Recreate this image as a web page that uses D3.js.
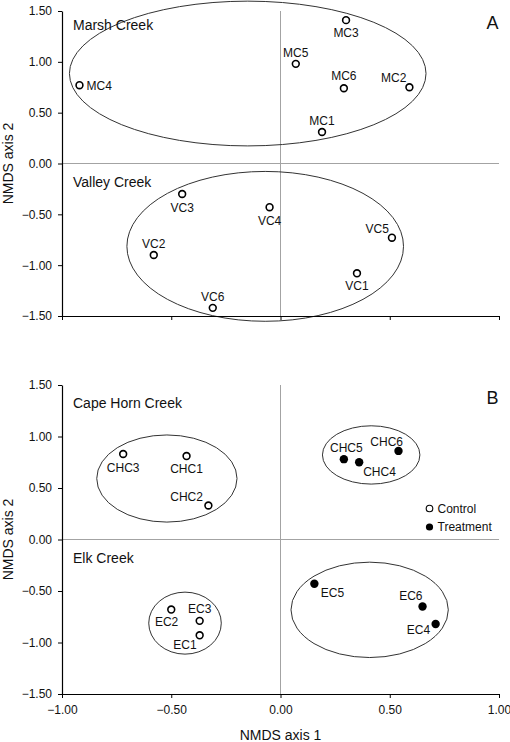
<!DOCTYPE html>
<html><head><meta charset="utf-8">
<script src="https://cdn.jsdelivr.net/npm/d3@7"></script>
<style>
body{margin:0;background:#fff;}
svg{display:block;font-family:"Liberation Sans",Arial,sans-serif;}
</style></head>
<body><svg id="chart" width="510" height="742"></svg>
<script>
// ---- data ----
const xTicks = [-1.0, -0.5, 0.0, 0.5, 1.0];
const yTicks = [-1.5, -1.0, -0.5, 0.0, 0.5, 1.0, 1.5];
const panelLetters = ["A", "B"];
const groupNames = ["Marsh Creek", "Valley Creek", "Cape Horn Creek", "Elk Creek"];
const groupPanel = [0, 0, 1, 1];

const siteNames = ["MC1","MC2","MC3","MC4","MC5","MC6",
                   "VC1","VC2","VC3","VC4","VC5","VC6",
                   "CHC1","CHC2","CHC3","CHC4","CHC5","CHC6",
                   "EC1","EC2","EC3","EC4","EC5","EC6"];
const siteX = [0.19, 0.59, 0.30, -0.92, 0.07, 0.29,
               0.35, -0.58, -0.45, -0.05, 0.51, -0.31,
               -0.43, -0.33, -0.72, 0.36, 0.29, 0.54,
               -0.37, -0.50, -0.37, 0.71, 0.155, 0.65];
const siteY = [0.31, 0.75, 1.41, 0.77, 0.98, 0.74,
               -1.08, -0.90, -0.30, -0.43, -0.73, -1.42,
               0.81, 0.33, 0.83, 0.75, 0.78, 0.86,
               -0.93, -0.68, -0.79, -0.82, -0.43, -0.65];
const sitePanel = [0,0,0,0,0,0, 0,0,0,0,0,0, 1,1,1,1,1,1, 1,1,1,1,1,1];
const siteTreatment = [false,false,false,false,false,false,
                       false,false,false,false,false,false,
                       false,false,false,true,true,true,
                       false,false,false,true,true,true];
const legendLabels = ["Control", "Treatment"];

// ellipses in data units: centre x, centre y, radius x, radius y
const ellipsePanel = [0, 0, 1, 1, 1, 1];
const ellipseCx = [-0.15, -0.07, -0.52, 0.415, -0.437, 0.408];
const ellipseCy = [0.885, -0.815, 0.592, 0.821, -0.812, -0.683];
const ellipseRx = [0.816, 0.633, 0.321, 0.223, 0.166, 0.36];
const ellipseRy = [0.712, 0.737, 0.423, 0.283, 0.301, 0.463];

// ---- layout (label placement) ----
const labelPlace = {
  MC1:[0,-7,"middle"], MC2:[-3,-5,"end"], MC3:[0,17,"middle"], MC4:[7,4.5,"start"], MC5:[0,-7,"middle"], MC6:[0,-8,"middle"],
  VC1:[0,17,"middle"], VC2:[0,-7,"middle"], VC3:[0,18,"middle"], VC4:[0,17.5,"middle"], VC5:[-3,-4.5,"end"], VC6:[0,-6.5,"middle"],
  CHC1:[0,17,"middle"], CHC2:[-5.5,-4.5,"end"], CHC3:[0,17.5,"middle"], CHC4:[4,14,"start"], CHC5:[2.5,-7.5,"middle"], CHC6:[4.5,-5,"end"],
  EC1:[-3,13.5,"end"], EC2:[7,16.5,"end"], EC3:[0,-8,"middle"], EC4:[-5.5,10.5,"end"], EC5:[6.5,13,"start"], EC6:[0,-6.5,"end"]
};
const panelYRange = [[316, 11], [694, 385]];
const groupLabelBaseline = [30, 186.5, 408, 562.5];
const letterBaseline = [28.5, 403.5];

const svg = d3.select("#chart");
const x = d3.scaleLinear().domain([-1, 1]).range([62, 499]);
const ys = panelYRange.map(r => d3.scaleLinear().domain([-1.5, 1.5]).range(r));
const fmt = d3.format(".2f");

ys.forEach((y, p) => {
  const g = svg.append("g");
  // zero lines
  g.append("line").attr("x1", x(-1)).attr("x2", x(1)).attr("y1", y(0)).attr("y2", y(0))
    .attr("stroke", "#a3a3a3").attr("stroke-width", 1);
  g.append("line").attr("x1", x(0)).attr("x2", x(0)).attr("y1", y(1.5)).attr("y2", y(-1.5))
    .attr("stroke", "#a3a3a3").attr("stroke-width", 1);
  // ellipses
  ellipsePanel.forEach((ep, i) => {
    if (ep !== p) return;
    g.append("ellipse")
      .attr("cx", x(ellipseCx[i])).attr("cy", y(ellipseCy[i]))
      .attr("rx", x(ellipseRx[i]) - x(0)).attr("ry", y(0) - y(ellipseRy[i]))
      .attr("fill", "none").attr("stroke", "#333").attr("stroke-width", 1);
  });
  // axes
  const ya = g.append("g").attr("transform", `translate(${x(-1)},0)`)
    .call(d3.axisLeft(y).tickValues(yTicks).tickFormat(fmt).tickSize(4).tickPadding(6).tickSizeOuter(0));
  const xa = g.append("g").attr("transform", `translate(0,${y(-1.5)})`)
    .call(d3.axisBottom(x).tickValues(xTicks).tickFormat(p === 1 ? fmt : () => "").tickSize(4).tickPadding(7).tickSizeOuter(0));
  [ya, xa].forEach(a => {
    a.select(".domain").attr("stroke", "#000").attr("stroke-width", 1.2);
    a.selectAll(".tick line").attr("stroke", "#000");
    a.selectAll("text").attr("font-size", 12).attr("fill", "#111").attr("font-family", "Liberation Sans, Arial, sans-serif");
  });
  // group labels
  groupNames.forEach((n, i) => {
    if (groupPanel[i] !== p) return;
    g.append("text").attr("x", 73).attr("y", groupLabelBaseline[i]).attr("font-size", 14).attr("fill", "#111").text(n);
  });
  // panel letter
  g.append("text").attr("x", 492.5).attr("y", letterBaseline[p]).attr("text-anchor", "middle")
    .attr("font-size", 18).attr("fill", "#111").text(panelLetters[p]);
  // y axis title
  const cy = (y(1.5) + y(-1.5)) / 2;
  g.append("text").attr("transform", `translate(13,${cy}) rotate(-90)`).attr("text-anchor", "middle")
    .attr("font-size", 14).attr("fill", "#111").text("NMDS axis 2");
  // points
  siteNames.forEach((n, i) => {
    if (sitePanel[i] !== p) return;
    const px = x(siteX[i]), py = y(siteY[i]);
    if (siteTreatment[i]) {
      g.append("circle").attr("cx", px).attr("cy", py).attr("r", 4.2).attr("fill", "#000");
    } else {
      g.append("circle").attr("cx", px).attr("cy", py).attr("r", 3.4).attr("fill", "#fff")
        .attr("stroke", "#000").attr("stroke-width", 1.6);
    }
    const lp = labelPlace[n];
    g.append("text").attr("x", px + lp[0]).attr("y", py + lp[1]).attr("text-anchor", lp[2])
      .attr("font-size", 12).attr("fill", "#111").text(n);
  });
  // legend
  if (p === 1) {
    legendLabels.forEach((l, i) => {
      const ly = 508.5 + i * 18.5;
      if (i === 0) g.append("circle").attr("cx", 429.5).attr("cy", ly).attr("r", 3.3).attr("fill", "#fff").attr("stroke", "#000").attr("stroke-width", 1.1);
      else g.append("circle").attr("cx", 429.5).attr("cy", ly).attr("r", 3.6).attr("fill", "#000");
      g.append("text").attr("x", 437.5).attr("y", ly + 4.3).attr("font-size", 12).attr("fill", "#111").text(l);
    });
  }
});
// x axis title
svg.append("text").attr("x", x(0)).attr("y", 740).attr("text-anchor", "middle")
  .attr("font-size", 14).attr("fill", "#111").text("NMDS axis 1");
</script>
</body></html>
